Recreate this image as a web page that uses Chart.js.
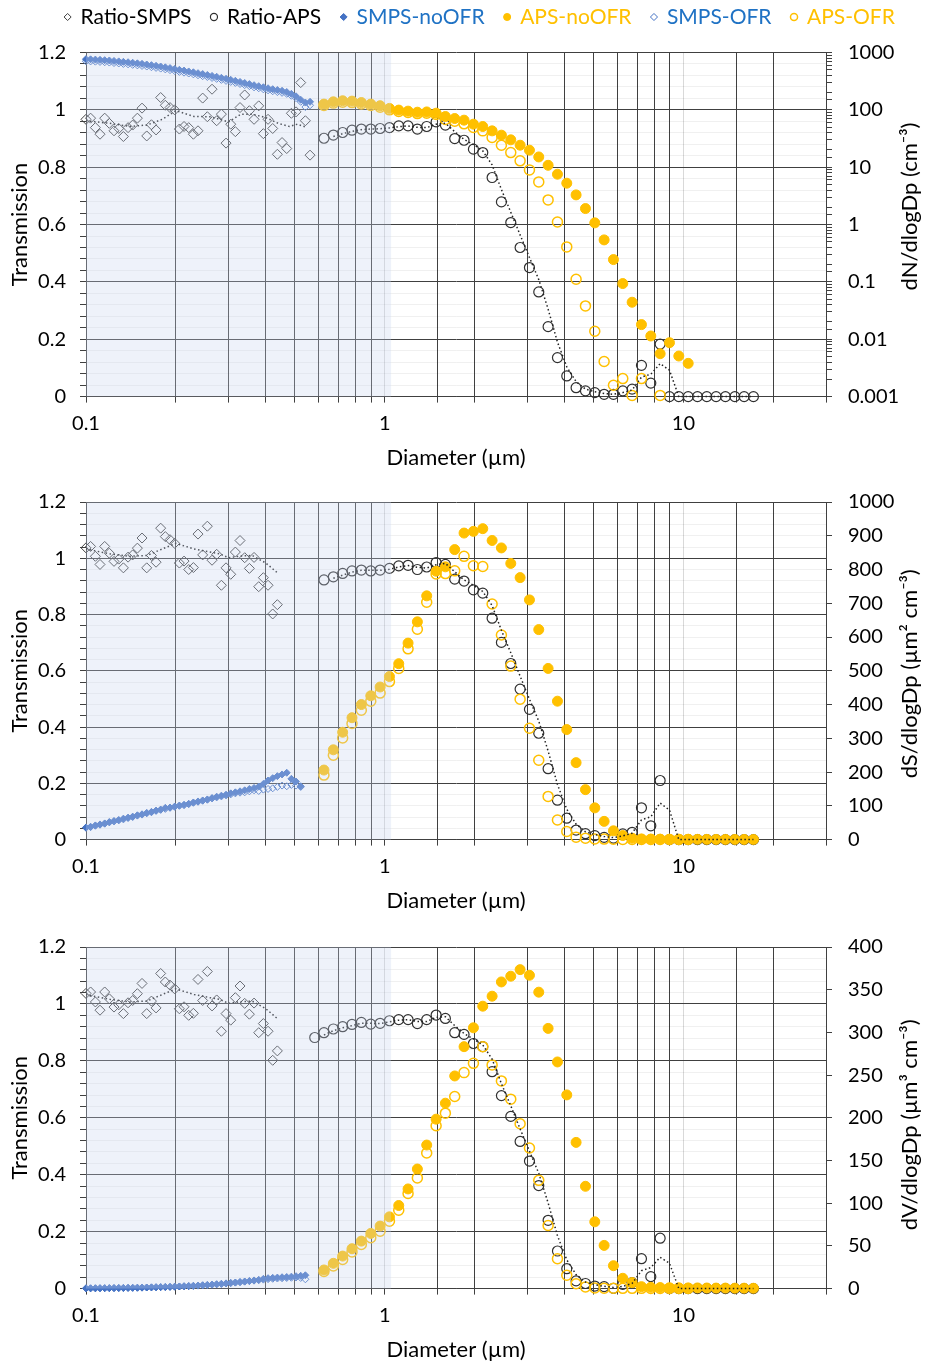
<!DOCTYPE html>
<html>
<head>
<meta charset="utf-8">
<script src="https://cdn.jsdelivr.net/npm/chart.js@4.4.1/dist/chart.umd.min.js"></script>
<style>
  body { margin: 0; background: #fff; width: 926px; height: 1364px; overflow: hidden; position: relative; }
  .panel { position: absolute; left: 0; width: 926px; }
</style>
</head>
<body>
<div class="panel" style="top:0;height:474px"><canvas id="chartN"></canvas></div>
<div class="panel" style="top:474px;height:443px"><canvas id="chartS"></canvas></div>
<div class="panel" style="top:917px;height:447px"><canvas id="chartV"></canvas></div>
<script>
/******************************************* data **/
// SMPS bin diameters (µm), 64 channels per decade
const smpsDiam = [0.1, 0.1036, 0.1075, 0.1114, 0.1155, 0.1197, 0.1241, 0.1287, 0.1334, 0.1383,
  0.1433, 0.1486, 0.154, 0.1597, 0.1656, 0.1716, 0.1778, 0.1843, 0.1911, 0.1981,
  0.2054, 0.2129, 0.2207, 0.2288, 0.2371, 0.2458, 0.2548, 0.2642, 0.2738, 0.2839,
  0.2943, 0.3051, 0.3162, 0.3278, 0.3398, 0.3523, 0.3652, 0.3786, 0.3924, 0.4068,
  0.4217, 0.4371, 0.4532, 0.4698, 0.487, 0.5048, 0.5233, 0.5425, 0.5623];

// APS bin diameters (µm)
const apsDiam = [0.542, 0.583, 0.626, 0.673, 0.723, 0.777, 0.835, 0.898, 0.965, 1.037,
  1.114, 1.197, 1.286, 1.382, 1.486, 1.596, 1.715, 1.843, 1.981, 2.129,
  2.288, 2.458, 2.642, 2.839, 3.051, 3.278, 3.523, 3.786, 4.068, 4.371,
  4.698, 5.048, 5.425, 5.829, 6.264, 6.732, 7.234, 7.774, 8.354, 8.977,
  9.647, 10.37, 11.14, 11.97, 12.86, 13.82, 14.86, 15.96, 17.15];

// ---- number (dN/dlogDp) panel
const ratioSmpsN = [0.967, 0.971, 0.938, 0.915, 0.971, 0.953, 0.927, 0.935, 0.907, 0.938,
  0.947, 0.971, 1.006, 0.909, 0.948, 0.930, 1.043, 1.016, 1.008, 1.000,
  0.933, 0.942, 0.938, 0.915, 0.927, 1.041, 0.976, 1.072, 0.962, 0.985,
  0.884, 0.950, 0.924, 1.008, 1.052, 0.997, 0.967, 1.014, 0.917, 0.967,
  0.935, 0.845, 0.886, 0.865, 0.988, 0.993, 1.095, 0.962, 0.842];
const trendSmpsDiamN = [0.1, 0.12, 0.14, 0.16, 0.18, 0.2, 0.23, 0.26, 0.28, 0.3, 0.33, 0.36, 0.4, 0.44, 0.48, 0.51, 0.55];
const trendSmpsN = [0.962, 0.953, 0.942, 0.947, 0.967, 0.997, 0.977, 0.976, 0.967, 0.958, 0.985, 0.985, 0.973, 0.953, 0.942, 0.950, 0.938];
const ratioApsN = [null, null, 0.901, 0.912, 0.921, 0.929, 0.933, 0.933, 0.935, 0.938,
  0.944, 0.944, 0.933, 0.942, 0.958, 0.947, 0.900, 0.894, 0.863, 0.851,
  0.764, 0.679, 0.607, 0.520, 0.450, 0.365, 0.244, 0.136, 0.072, 0.031,
  0.020, 0.014, 0.008, 0.008, 0.020, 0.026, 0.109, 0.047, 0.183, 0,
  0, 0, 0, 0, 0, 0, 0, 0, 0];
const trendApsN = [null, null, null, 0.907, 0.917, 0.925, 0.931, 0.933, 0.934, 0.937,
  0.941, 0.944, 0.939, 0.938, 0.950, 0.953, 0.924, 0.897, 0.879, 0.857,
  0.808, 0.722, 0.643, 0.564, 0.485, 0.408, 0.305, 0.190, 0.104, 0.052,
  0.026, 0.017, 0.011, 0.008, 0.014, 0.023, 0.068, 0.078, 0.115, 0.092,
  0, 0, 0, 0, 0, 0, 0, 0, 0];
const smpsNoOfrN = [766, 760, 752, 745, 735, 726, 712, 700, 687, 676,
  662, 648, 634, 618, 602, 586, 570, 552, 535, 517,
  499, 484, 467, 452, 436, 421, 406, 391, 377, 362,
  348, 334, 321, 307, 294, 281, 269, 259, 248, 238,
  229, 222, 215, 205, 190, 172, 150, 134, 138];
const smpsOfrN = [705, 699, 692, 685, 676, 668, 655, 644, 632, 622,
  609, 596, 583, 569, 554, 539, 524, 508, 492, 476,
  459, 445, 430, 416, 401, 387, 374, 360, 347, 333,
  320, 307, 295, 282, 270, 259, 247, 238, 228, 219,
  211, 204, 198, 190, 176, 160, 138, 112, 120];
const apsNoOfrN = [null, null, 126, 138, 144, 142, 134, 126, 118, 106,
  99, 95, 91, 92, 87.5, 76.5, 70.6, 66.1, 56.3, 51.2,
  43.0, 36.2, 30.0, 24.2, 19.8, 15.1, 10.8, 7.55, 5.26, 3.29,
  1.90, 1.07, 0.54, 0.245, 0.0935, 0.0442, 0.018, 0.0114, 0.0056, 0.0087,
  0.0051, 0.0038, null, null, null, null, null, null, null];
const apsOfrN = [null, null, 119, 131, 136, 134, 127, 119, 111, 100,
  93.5, 90, 86, 87.5, 83, 67.8, 63.4, 57.0, 49.2, 43.0,
  32.9, 24.2, 18.0, 12.9, 8.98, 5.54, 2.69, 1.11, 0.407, 0.111,
  0.0381, 0.0138, 0.0041, 0.00158, 0.00206, 0.00105, 0.00206, null, 0.00105, null,
  null, null, null, null, null, null, null, null, null];

// ---- surface (dS/dlogDp) and volume (dV/dlogDp) panels share the SMPS ratio
const ratioSmpsSV = [1.037, 1.042, 1.007, 0.978, 1.042, 1.018, 0.989, 0.997, 0.966, 1.004,
  1.012, 1.036, 1.072, 0.966, 1.010, 0.986, 1.107, 1.077, 1.066, 1.053,
  0.983, 0.990, 0.960, 0.967, 1.086, 1.012, 1.114, 0.993, 1.014, 0.904,
  0.966, 0.943, 1.022, 1.063, 1.002, 0.964, 1.003, 0.899, 0.931, 0.904,
  0.802, 0.835];
const trendSmpsDiamSV = [0.1, 0.12, 0.14, 0.16, 0.18, 0.2, 0.23, 0.26, 0.28, 0.3, 0.33, 0.36, 0.4, 0.44];
const trendSmpsSV = [1.033, 1.016, 1.007, 1.010, 1.033, 1.053, 1.033, 1.022, 1.016, 1.002, 1.008, 1.010, 0.983, 0.946];

const ratioApsS = [null, null, 0.923, 0.934, 0.946, 0.955, 0.958, 0.955, 0.958, 0.964,
  0.973, 0.975, 0.960, 0.969, 0.985, 0.978, 0.926, 0.919, 0.888, 0.876,
  0.787, 0.701, 0.626, 0.535, 0.463, 0.378, 0.252, 0.140, 0.076, 0.034,
  0.021, 0.014, 0.008, 0.005, 0.020, 0.026, 0.113, 0.049, 0.210, 0,
  0, 0, 0, 0, 0, 0, 0, 0, 0];
const trendApsS = [null, null, null, 0.929, 0.940, 0.951, 0.957, 0.957, 0.957, 0.961,
  0.969, 0.974, 0.968, 0.965, 0.977, 0.982, 0.952, 0.923, 0.904, 0.882,
  0.832, 0.744, 0.664, 0.581, 0.499, 0.421, 0.315, 0.196, 0.108, 0.055,
  0.028, 0.018, 0.011, 0.007, 0.013, 0.023, 0.070, 0.081, 0.130, 0.105,
  0, 0, 0, 0, 0, 0, 0, 0, 0];
const smpsNoOfrS = [36, 38, 42, 45, 48, 52, 55, 58, 62, 65,
  68, 72, 75, 79, 82, 86, 89, 94, 95, 98,
  101, 103, 106, 110, 112, 116, 119, 123, 127, 130,
  133, 137, 140, 143, 146, 150, 153, 157, 165, 175,
  182, 188, 193, 198, 180, 172, 158];
const smpsOfrS = [35, 37, 41, 44, 47, 51, 54, 57, 60, 64,
  67, 71, 74, 78, 81, 85, 88, 91, 94, 97,
  100, 102, 105, 109, 113, 115, 118, 122, 125, 128,
  131, 134, 137, 139, 140, 143, 146, 144, 148, 150,
  152, 156, 160, 158, 162, 160, 156];
const apsNoOfrS = [null, null, 206, 266, 318, 361, 400, 426, 452, 483,
  521, 582, 645, 722, 795, 808, 859, 908, 913, 921,
  886, 864, 818, 776, 710, 622, 507, 410, 326, 228,
  148, 94, 54, 26, 12, 4, 2, 1.5, 1.2, 1,
  1, 0.8, 0.8, 0.7, 0.6, 0.6, 0.5, 0.5, 0.4];
const apsOfrS = [null, null, 191, 250, 301, 344, 383, 410, 434, 468,
  507, 565, 623, 703, 787, 788, 796, 839, 811, 809,
  698, 606, 514, 416, 330, 235, 128, 58, 24, 7,
  4, 2, 1.5, 1, 0.5, 0.5, 0.4, 0.4, 0.3, 0.3,
  0.3, 0.2, null, null, null, null, null, null, null];

const ratioApsV = [null, 0.882, 0.899, 0.912, 0.920, 0.928, 0.935, 0.929, 0.932, 0.941,
  0.945, 0.945, 0.931, 0.945, 0.961, 0.949, 0.899, 0.893, 0.861, 0.850,
  0.762, 0.678, 0.605, 0.517, 0.448, 0.362, 0.240, 0.132, 0.070, 0.027,
  0.018, 0.009, 0.007, 0.001, 0.015, 0.021, 0.105, 0.042, 0.177, 0,
  0, 0, 0, 0, 0, 0, 0, 0, 0];
const trendApsV = [null, null, 0.891, 0.906, 0.916, 0.924, 0.932, 0.932, 0.931, 0.937,
  0.943, 0.945, 0.938, 0.938, 0.953, 0.955, 0.924, 0.896, 0.877, 0.856,
  0.806, 0.720, 0.642, 0.561, 0.483, 0.405, 0.301, 0.186, 0.101, 0.049,
  0.023, 0.014, 0.008, 0.004, 0.008, 0.018, 0.063, 0.074, 0.110, 0.089,
  0, 0, 0, 0, 0, 0, 0, 0, 0];
const smpsNoOfrV = [0.3, 0.35, 0.4, 0.45, 0.5, 0.55, 0.62, 0.7, 0.78, 0.87,
  0.96, 1.06, 1.17, 1.3, 1.44, 1.6, 1.75, 1.92, 2.1, 2.3,
  2.5, 2.75, 3.0, 3.3, 3.6, 3.9, 4.3, 4.7, 5.1, 5.6,
  6.1, 6.6, 7.1, 7.7, 8.3, 8.9, 9.6, 10.2, 11.4, 12.2,
  12.6, 12.9, 13.3, 13.6, 14.0, 14.5, 15.0, 15.6];
const smpsOfrV = [0.3, 0.34, 0.39, 0.44, 0.49, 0.54, 0.6, 0.68, 0.76, 0.85,
  0.94, 1.03, 1.14, 1.27, 1.4, 1.55, 1.7, 1.87, 2.05, 2.25,
  2.45, 2.7, 2.95, 3.2, 3.5, 3.8, 4.2, 4.6, 5.0, 5.5,
  6.0, 6.5, 7.0, 7.5, 8.1, 8.7, 9.3, 9.9, 10.5, 11.0,
  11.5, 11.8, 12.1, 12.4, 12.7, 13.0, 12.5, 10.9];
const apsNoOfrV = [null, null, 21.8, 29.6, 38.1, 46.7, 55.6, 64.6, 73.2, 84.0,
  97.3, 116.7, 140, 168.1, 198.4, 217.1, 249.0, 283.3, 305.4, 330.7,
  342.4, 359.1, 365.8, 373.5, 366.9, 347.1, 304.7, 265.4, 226.8, 171.2,
  119.8, 78.2, 50.6, 26.8, 12.1, 7.0, 2.3, 1.5, 1.2, 1.0,
  0.9, 0.8, 0.8, 0.7, 0.6, 0.6, 0.5, 0.5, 0.4];
const apsOfrV = [null, null, 20.0, 26.5, 34.2, 42.8, 51.7, 59.5, 67.3, 79.0,
  91.8, 111.3, 129.6, 158.8, 190.7, 205.4, 224.9, 252.9, 263.8, 283.3,
  261.9, 243.2, 221.8, 193.0, 164.6, 126.8, 73.9, 35.0, 15.6, 5.8,
  1.9, 0.8, 0.5, 0.4, 0.3, 0.3, 0.3, 0.2, 0.2, 0.2,
  0.2, 0.2, null, null, null, null, null, null, null];

// shaded SMPS/APS overlap band on the diameter axis
const shadeFrom = 0.1;
const shadeTo = 1.05;

/******************************************* helpers **/
Chart.defaults.font.family = "Lato, 'Open Sans', sans-serif";
Chart.defaults.font.size = 20;
Chart.defaults.color = "#000";

function pts(xs, ys) {
  const out = [];
  xs.forEach((x, i) => {
    if (ys[i] != null) out.push({ x: x, y: ys[i] });
  });
  return out;
}

function isDecade(v) {
  const lg = Math.log10(v);
  return Math.abs(lg - Math.round(lg)) < 1e-6;
}

function decadeLabel(v) {
  if (!isDecade(v)) return "";
  const e = Math.round(Math.log10(v));
  return e < 0 ? Math.pow(10, e).toFixed(-e) : String(Math.pow(10, e));
}

function isMajorT(v) {
  return Math.abs(v * 5 - Math.round(v * 5)) < 1e-6;
}

const DARK = "#404040";
const AXIS = "#404040";
const TITLE_FONT = { size: 22 };

// draw the shaded band on top of the points (it is semi transparent)
const shadePlugin = {
  id: "shade",
  afterDatasetsDraw(chart) {
    const x = chart.scales.x;
    const a = chart.chartArea;
    const ctx = chart.ctx;
    const x0 = x.getPixelForValue(shadeFrom);
    const x1 = x.getPixelForValue(shadeTo);
    ctx.save();
    ctx.fillStyle = "rgba(200,212,238,0.3)";
    ctx.fillRect(x0, a.top, x1 - x0, a.bottom - a.top);
    ctx.restore();
  },
};

// right axis title, reading bottom to top like the left one
const rightTitlePlugin = {
  id: "rightTitle",
  afterDraw(chart, args, opts) {
    const a = chart.chartArea;
    const ctx = chart.ctx;
    ctx.save();
    ctx.translate(opts.x, (a.top + a.bottom) / 2 + opts.shift);
    ctx.rotate(-Math.PI / 2);
    ctx.font = "22px Lato, 'DejaVu Sans', sans-serif";
    ctx.fillStyle = "#000";
    ctx.textAlign = "center";
    ctx.textBaseline = "middle";
    ctx.fillText(opts.text, 0, 0);
    ctx.restore();
  },
};

// extra room under the legend and a small sideways nudge
const legendGapPlugin = {
  id: "legendGap",
  beforeLayout(chart, args, opts) {
    const legend = chart.legend;
    if (!legend || legend._gapPatched) return;
    const fit = legend.fit;
    legend.fit = function () {
      fit.call(this);
      this.height += opts.gap;
    };
    legend._gapPatched = true;
  },
  afterLayout(chart, args, opts) {
    const legend = chart.legend;
    if (!legend) return;
    legend.left += opts.shift;
    legend.right += opts.shift;
  },
};

/******************************************* chart builder **/
function makePanel(id, p) {
  const datasets = [
    { label: "Ratio-SMPS", data: pts(smpsDiam, p.ratioSmps), yAxisID: "y",
      pointStyle: "rectRot", pointRadius: 5, backgroundColor: "rgba(0,0,0,0)",
      borderColor: "#404040", borderWidth: 1, legendColor: "#000", order: 6 },
    { label: "Ratio-APS", data: pts(apsDiam, p.ratioAps), yAxisID: "y",
      pointStyle: "circle", pointRadius: 5, backgroundColor: "rgba(0,0,0,0)",
      borderColor: "#303030", borderWidth: 1.2, legendColor: "#000", order: 5 },
    { label: "SMPS-noOFR", data: pts(smpsDiam, p.smpsNo), yAxisID: "y2",
      pointStyle: "rectRot", pointRadius: 3.5, backgroundColor: "#4472C4",
      borderColor: "#4472C4", borderWidth: 1, legendColor: "#1f72c4", order: 4 },
    { label: "APS-noOFR", data: pts(apsDiam, p.apsNo), yAxisID: "y2",
      pointStyle: "circle", pointRadius: 5, backgroundColor: "#FFC000",
      borderColor: "#FFC000", borderWidth: 1, legendColor: "#FFC000", order: 3 },
    { label: "SMPS-OFR", data: pts(smpsDiam, p.smpsOfr), yAxisID: "y2",
      pointStyle: "rectRot", pointRadius: 3.5, backgroundColor: "rgba(0,0,0,0)",
      borderColor: "#4472C4", borderWidth: 1, legendColor: "#1f72c4", order: 2 },
    { label: "APS-OFR", data: pts(apsDiam, p.apsOfr), yAxisID: "y2",
      pointStyle: "circle", pointRadius: 5, backgroundColor: "rgba(0,0,0,0)",
      borderColor: "#FFC000", borderWidth: 1.5, legendColor: "#FFC000", order: 1 },
    { label: "Ratio-SMPS moving average", isTrend: true, data: pts(p.trendSmpsX, p.trendSmps),
      yAxisID: "y", showLine: true, pointRadius: 0, borderColor: "#222",
      borderWidth: 1.5, borderDash: [1.5, 2.5], order: 0 },
    { label: "Ratio-APS moving average", isTrend: true, data: pts(apsDiam, p.trendAps),
      yAxisID: "y", showLine: true, pointRadius: 0, borderColor: "#222",
      borderWidth: 1.5, borderDash: [1.5, 2.5], order: 0 },
  ];
  datasets.forEach((d) => { d.clip = false; });

  const y2 = Object.assign({
    position: "right",
    afterFit: (s) => { s.width = 100; },
    grid: { drawOnChartArea: false, tickLength: 6, tickColor: AXIS },
    border: { color: AXIS },
  }, p.y2);

  return new Chart(document.getElementById(id), {
    type: "scatter",
    data: { datasets: datasets },
    options: {
      responsive: true,
      maintainAspectRatio: false,
      animation: false,
      events: [],
      layout: { padding: { top: p.padTop, left: 0, right: 0, bottom: 0 } },
      plugins: {
        tooltip: { enabled: false },
        legend: {
          display: p.legend,
          labels: {
            usePointStyle: true,
            boxWidth: 5,
            boxHeight: 5,
            padding: 20,
            font: { size: 21 },
            sort: (a, b) => a.datasetIndex - b.datasetIndex,
            filter: (item, data) => !data.datasets[item.datasetIndex].isTrend,
            generateLabels(chart) {
              const items = Chart.defaults.plugins.legend.labels.generateLabels(chart);
              items.forEach((it) => {
                it.fontColor = chart.data.datasets[it.datasetIndex].legendColor;
              });
              return items;
            },
          },
        },
        legendGap: { gap: 15, shift: 17 },
        rightTitle: { text: p.rightTitle, x: 910, shift: p.titleShift },
      },
      scales: {
        x: {
          type: "logarithmic",
          min: 0.1,
          max: 30,
          grid: {
            color: (c) => (isDecade(c.tick.value) ? "#d9d9d9" : DARK),
            tickLength: 6,
            tickColor: AXIS,
          },
          border: { color: AXIS },
          ticks: {
            autoSkip: false,
            maxRotation: 0,
            padding: 9,
            callback: (v) => (v < 15 ? decadeLabel(v) : ""),
          },
          title: {
            display: true,
            text: "Diameter (µm)",
            font: TITLE_FONT,
            padding: { top: 0, bottom: p.xTitleBottom },
          },
        },
        y: {
          type: "linear",
          position: "left",
          min: 0,
          max: 1.2,
          afterFit: (s) => { s.width = 86; },
          grid: {
            color: (c) => (isMajorT(c.tick.value) ? DARK : "rgba(0,0,0,0.06)"),
            tickLength: 6,
            tickColor: AXIS,
          },
          border: { color: AXIS },
          ticks: {
            stepSize: 0.04,
            autoSkip: false,
            padding: 14,
            callback: (v) => (isMajorT(v) ? String(Math.round(v * 5) / 5) : ""),
          },
          title: { display: true, text: "Transmission", font: TITLE_FONT, padding: { top: 7, bottom: 0 } },
        },
        y2: y2,
      },
    },
    plugins: [shadePlugin, rightTitlePlugin, legendGapPlugin],
  });
}

/******************************************* panels **/
makePanel("chartN", {
  legend: true,
  padTop: -13.5,
  xTitleBottom: 3,
  ratioSmps: ratioSmpsN, trendSmpsX: trendSmpsDiamN, trendSmps: trendSmpsN,
  ratioAps: ratioApsN, trendAps: trendApsN,
  smpsNo: smpsNoOfrN, smpsOfr: smpsOfrN, apsNo: apsNoOfrN, apsOfr: apsOfrN,
  rightTitle: "dN/dlogDp (cm⁻³)",
  titleShift: -18,
  y2: {
    type: "logarithmic", min: 0.001, max: 1000,
    ticks: { autoSkip: false, padding: 16, callback: (v) => decadeLabel(v) },
  },
});

makePanel("chartS", {
  legend: false,
  padTop: 9,
  xTitleBottom: 3,
  ratioSmps: ratioSmpsSV, trendSmpsX: trendSmpsDiamSV, trendSmps: trendSmpsSV,
  ratioAps: ratioApsS, trendAps: trendApsS,
  smpsNo: smpsNoOfrS, smpsOfr: smpsOfrS, apsNo: apsNoOfrS, apsOfr: apsOfrS,
  rightTitle: "dS/dlogDp (µm² cm⁻³)",
  titleShift: 3,
  y2: {
    type: "linear", min: 0, max: 1000,
    ticks: { stepSize: 100, autoSkip: false, padding: 16, callback: (v) => String(v) },
  },
});

makePanel("chartV", {
  legend: false,
  padTop: 15,
  xTitleBottom: 1,
  ratioSmps: ratioSmpsSV, trendSmpsX: trendSmpsDiamSV, trendSmps: trendSmpsSV,
  ratioAps: ratioApsV, trendAps: trendApsV,
  smpsNo: smpsNoOfrV, smpsOfr: smpsOfrV, apsNo: apsNoOfrV, apsOfr: apsOfrV,
  rightTitle: "dV/dlogDp (µm³ cm⁻³)",
  titleShift: 7,
  y2: {
    type: "linear", min: 0, max: 400,
    ticks: { stepSize: 50, autoSkip: false, padding: 16, callback: (v) => String(v) },
  },
});
</script>
</body>
</html>
